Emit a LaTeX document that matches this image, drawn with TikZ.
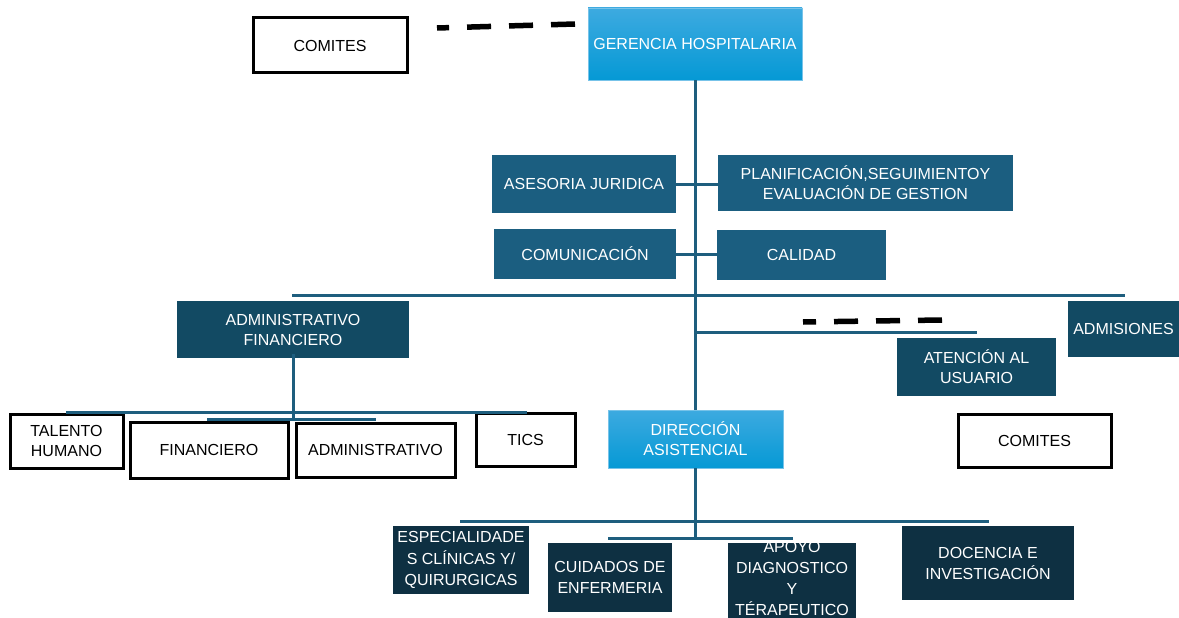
\documentclass[tikz,border=0pt]{standalone}
\usepackage{fontspec}
\setmainfont{Liberation Sans}
\usepackage{tikz}

\definecolor{midblue}{HTML}{1B5E80}
\definecolor{darkblue}{HTML}{124A63}
\definecolor{deepblue}{HTML}{0E3042}
\definecolor{linkblue}{HTML}{1E5E7E}
\definecolor{skytop}{HTML}{3DAAE0}
\definecolor{skybot}{HTML}{0599D5}

\begin{document}
\begin{tikzpicture}[x=1pt, y=-1pt,
    box/.style={rectangle, inner sep=0pt, align=center, font=\fontsize{16}{20}\selectfont},
    whitebox/.style={box, draw=black, line width=3pt, fill=white},
    skybox/.style={box, text=white, top color=skytop, bottom color=skybot, draw=skytop!70, line width=0.6pt},
    midbox/.style={box, text=white, fill=midblue},
    darkbox/.style={box, text=white, fill=darkblue},
    deepbox/.style={box, text=white, fill=deepblue},
    link/.style={draw=linkblue, line width=3pt},
    dotted link/.style={draw=black, line width=5.5pt, dash pattern=on 24pt off 18pt}]
    \useasboundingbox (0,0) rectangle (1179,618);

    \node[whitebox, minimum width=154pt, minimum height=55pt] (comites1) at (330,45.5) {COMITES};
    \node[skybox, minimum width=214pt, minimum height=72pt] (gerencia) at (695,44) {GERENCIA HOSPITALARIA};
    \node[midbox, minimum width=184pt, minimum height=58pt] (asesoria) at (584,184) {ASESORIA JURIDICA};
    \node[midbox, minimum width=295pt, minimum height=56pt] (planif) at (865.5,183) {PLANIFICACIÓN,SEGUIMIENTOY\\EVALUACIÓN DE GESTION};
    \node[midbox, minimum width=182pt, minimum height=50pt] (comunic) at (585,254) {COMUNICACIÓN};
    \node[midbox, minimum width=169pt, minimum height=50pt] (calidad) at (801.5,255) {CALIDAD};

    \node[darkbox, minimum width=232pt, minimum height=57pt] (admfin) at (293,329.5) {ADMINISTRATIVO\\FINANCIERO};
    \node[darkbox, minimum width=159pt, minimum height=58pt] (atencion) at (976.5,367) {ATENCIÓN AL\\USUARIO};
    \node[darkbox, minimum width=111pt, minimum height=56pt] (admisiones) at (1123.5,329) {ADMISIONES};
    \node[whitebox, minimum width=153pt, minimum height=53pt] (comites2) at (1034.5,440.5) {COMITES};

    \node[whitebox, minimum width=113pt, minimum height=54pt] (talento) at (66.5,441) {TALENTO\\HUMANO};
    \node[whitebox, minimum width=158pt, minimum height=56pt] (financiero) at (209,450) {FINANCIERO};
    \node[whitebox, minimum width=159pt, minimum height=54pt] (administrativo) at (375.5,450) {ADMINISTRATIVO};
    \node[whitebox, minimum width=99pt, minimum height=53pt] (tics) at (525.5,439.5) {TICS};
    \node[skybox, minimum width=175pt, minimum height=58pt] (direccion) at (695.5,439) {DIRECCIÓN\\ASISTENCIAL};

    \node[deepbox, minimum width=136pt, minimum height=68pt, font=\fontsize{16}{21.5}\selectfont] (especial) at (461,560) {ESPECIALIDADE\\S CLÍNICAS Y/\\QUIRURGICAS};
    \node[deepbox, minimum width=124pt, minimum height=69pt, font=\fontsize{16}{21}\selectfont] (cuidados) at (610,577.5) {CUIDADOS DE\\ENFERMERIA};
    \node[deepbox, minimum width=128pt, minimum height=90pt] (apoyo) at (792,588) {};
    \node[box, text=white, font=\fontsize{16}{21.3}\selectfont] (apoyotxt) at (792,578.5) {APOYO\\DIAGNOSTICO\\Y\\TÉRAPEUTICO};
    \node[deepbox, minimum width=172pt, minimum height=74pt, font=\fontsize{16}{21}\selectfont] (docencia) at (988,563) {DOCENCIA E\\INVESTIGACIÓN};

    \coordinate (busA) at (292,295);
    \coordinate (busB) at (1125,295);
    \coordinate (busC) at (977,332);
    \coordinate (busD) at (66,412);
    \coordinate (busE) at (527,412);
    \coordinate (busF) at (207,419);
    \coordinate (busG) at (376,419);
    \coordinate (busH) at (460,521);
    \coordinate (busI) at (989,521);
    \coordinate (busJ) at (608,538);
    \coordinate (busK) at (793,538);
    \coordinate (dashA) at (575,24);
    \coordinate (dashB) at (437,28);
    \coordinate (dashC) at (942,320);
    \coordinate (dashD) at (803,322);

    \draw[link] (gerencia.south) -- (gerencia.south |- direccion.north);
    \draw[link] (asesoria.east) -- (asesoria.east -| planif.west);
    \draw[link] (comunic.east) -- (comunic.east -| calidad.west);
    \draw[link] (busA) -- (busB);
    \draw[link] (gerencia.south |- busC) -- (busC);
    \draw[link] ([yshift=4pt]admfin.south) -- (admfin.south |- busF);
    \draw[link] (busD) -- (busE);
    \draw[link] (busF) -- (busG);
    \draw[link] (direccion.south) -- (direccion.south |- busJ);
    \draw[link] (busH) -- (busI);
    \draw[link] (busJ) -- (busK);
    \draw[dotted link] (dashA) -- (dashB);
    \draw[dotted link] (dashC) -- (dashD);
\end{tikzpicture}
\end{document}
